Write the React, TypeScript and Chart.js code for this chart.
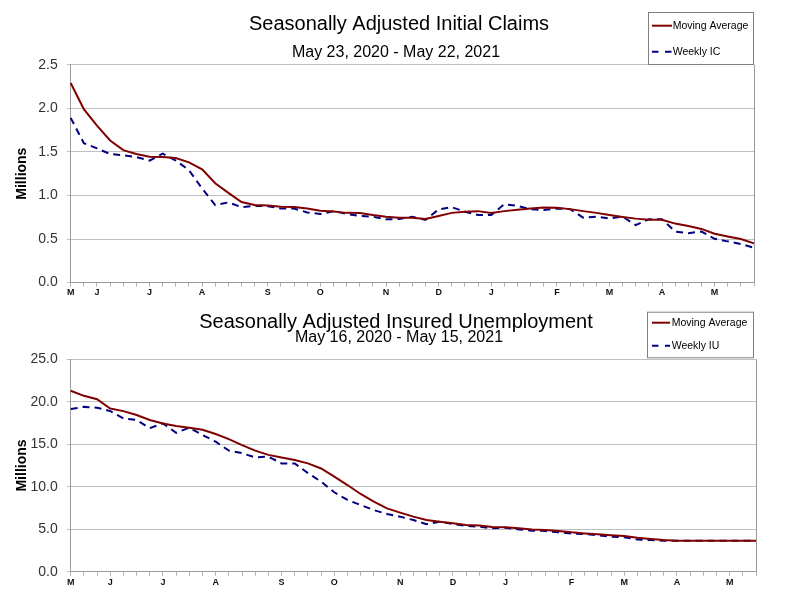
import React, { useEffect, useRef } from "react";
import { Chart, registerables } from "chart.js";

Chart.register(...registerables);

const FONT = '"Liberation Sans", Arial, Helvetica, sans-serif';

// ---- Initial claims (weeks ending May 23, 2020 - May 22, 2021), millions ----
const claimsTickLabels = [
  "M", "", "J", "", "", "", "J", "", "", "", "A", "", "", "", "", "S", "", "", "", "O",
  "", "", "", "", "N", "", "", "", "D", "", "", "", "J", "", "", "", "", "F", "", "",
  "", "M", "", "", "", "A", "", "", "", "M", "", "", "",
];
const claimsMovingAvg = [
  2.29, 1.99, 1.8, 1.63, 1.52, 1.475, 1.445, 1.44, 1.43, 1.38,
  1.3, 1.14, 1.03, 0.925, 0.89, 0.885, 0.87, 0.866, 0.85, 0.825,
  0.817, 0.8, 0.798, 0.775, 0.756, 0.745, 0.745, 0.73, 0.764, 0.8,
  0.813, 0.82, 0.8, 0.82, 0.836, 0.85, 0.862, 0.86, 0.843, 0.82,
  0.8, 0.775, 0.753, 0.734, 0.722, 0.722, 0.677, 0.65, 0.616, 0.56,
  0.53, 0.5, 0.45,
];
const claimsWeekly = [
  1.89, 1.6, 1.54, 1.475, 1.46, 1.44, 1.4, 1.48, 1.4, 1.29,
  1.08, 0.89, 0.92, 0.866, 0.88, 0.877, 0.85, 0.85, 0.805, 0.787,
  0.82, 0.787, 0.765, 0.756, 0.726, 0.73, 0.756, 0.72, 0.84, 0.865,
  0.813, 0.775, 0.775, 0.9, 0.88, 0.843, 0.832, 0.85, 0.843, 0.745,
  0.756, 0.737, 0.756, 0.66, 0.726, 0.726, 0.586, 0.567, 0.586, 0.503,
  0.473, 0.443, 0.4,
];

// ---- Insured unemployment (weeks ending May 16, 2020 - May 15, 2021), millions ----
const insuredTickLabels = [
  "M", "", "", "J", "", "", "", "J", "", "", "", "A", "", "", "", "", "S", "", "", "",
  "O", "", "", "", "", "N", "", "", "", "D", "", "", "", "J", "", "", "", "", "F", "",
  "", "", "M", "", "", "", "A", "", "", "", "M", "", "",
];
const insuredMovingAvg = [
  21.3, 20.7, 20.3, 19.2, 18.9, 18.45, 17.85, 17.45, 17.15, 16.95,
  16.7, 16.2, 15.6, 14.9, 14.25, 13.75, 13.45, 13.15, 12.75, 12.15,
  11.2, 10.2, 9.15, 8.25, 7.45, 6.95, 6.48, 6.08, 5.89, 5.7,
  5.5, 5.45, 5.26, 5.22, 5.1, 4.98, 4.9, 4.8, 4.63, 4.5,
  4.4, 4.3, 4.2, 4.0, 3.85, 3.73, 3.65, 3.65, 3.65, 3.65,
  3.65, 3.65, 3.65,
];
const insuredWeekly = [
  19.15, 19.4, 19.3, 18.9, 18.05, 17.85, 16.9, 17.45, 16.35, 16.95,
  16.1, 15.3, 14.25, 13.95, 13.45, 13.55, 12.75, 12.75, 11.6, 10.6,
  9.35, 8.45, 7.85, 7.25, 6.8, 6.48, 6.08, 5.6, 5.89, 5.6,
  5.38, 5.3, 5.1, 5.18, 4.98, 4.83, 4.79, 4.63, 4.5, 4.43,
  4.28, 4.12, 4.04, 3.8, 3.73, 3.65, 3.65, 3.65, 3.65, 3.65,
  3.65, 3.65, 3.65,
];

const MA_COLOR = "#800000";
const WK_COLOR = "#000080";
const GRID = "#c0c0c0";
const AXIS = "#9a9a9a";

const decorPlugin = {
  id: "decor",
  afterDraw(chart: any, _args: any, opts: any) {
    const { ctx, chartArea } = chart;
    ctx.save();
    // right border of plot area
    ctx.strokeStyle = AXIS;
    ctx.lineWidth = 1;
    ctx.beginPath();
    ctx.moveTo(Math.round(chartArea.right) + 0.5, chartArea.top);
    ctx.lineTo(Math.round(chartArea.right) + 0.5, chartArea.bottom);
    ctx.stroke();

    // titles
    ctx.fillStyle = "#000";
    ctx.textAlign = "center";
    ctx.textBaseline = "alphabetic";
    ctx.font = `20px ${FONT}`;
    ctx.fillText(opts.title, opts.titleX, opts.titleY);
    ctx.font = `16px ${FONT}`;
    ctx.fillText(opts.subtitle, opts.subX, opts.subY);

    // legend box
    const b = opts.box;
    ctx.fillStyle = "#fff";
    ctx.fillRect(b.x, b.y, b.w, b.h);
    ctx.strokeStyle = "#808080";
    ctx.strokeRect(b.x + 0.5, b.y + 0.5, b.w, b.h);
    ctx.font = `10.5px ${FONT}`;
    ctx.textAlign = "left";
    opts.items.forEach((it: any) => {
      ctx.strokeStyle = it.color;
      ctx.lineWidth = 2;
      ctx.setLineDash(it.dash || []);
      ctx.beginPath();
      ctx.moveTo(it.x1, it.ly);
      ctx.lineTo(it.x2, it.ly);
      ctx.stroke();
      ctx.setLineDash([]);
      ctx.fillStyle = "#000";
      ctx.fillText(it.text, it.tx, it.ty);
    });
    ctx.restore();
  },
};

function makeConfig(p: any): any {
  return {
    type: "line",
    data: {
      labels: p.labels,
      datasets: [
        {
          label: "Moving Average",
          data: p.ma,
          borderColor: MA_COLOR,
          borderWidth: 2,
          pointRadius: 0,
          tension: 0,
          fill: false,
        },
        {
          label: p.wkLabel,
          data: p.wk,
          borderColor: WK_COLOR,
          borderWidth: 2,
          borderDash: [7, 5],
          pointRadius: 0,
          tension: 0,
          fill: false,
        },
      ],
    },
    options: {
      responsive: false,
      animation: false,
      layout: { padding: { top: p.padTop, right: p.padRight, left: 0, bottom: 0 } },
      plugins: {
        legend: { display: false },
        tooltip: { enabled: false },
        decor: p.decor,
      },
      scales: {
        x: {
          type: "category",
          offset: false,
          grid: { drawOnChartArea: false, drawTicks: true, tickLength: 4, color: "#b0b0b0" },
          border: { display: true, color: AXIS },
          ticks: {
            autoSkip: false,
            maxRotation: 0,
            minRotation: 0,
            padding: 1,
            color: "#111",
            font: { family: FONT, size: 9, weight: "bold" },
            callback: (_v: any, i: number) => p.labels[i],
          },
          afterFit: (s: any) => {
            s.height = p.xHeight;
          },
        },
        y: {
          min: 0,
          max: p.yMax,
          grid: { color: GRID, tickLength: 4 },
          border: { display: true, color: AXIS },
          ticks: {
            stepSize: p.yStep,
            padding: 9,
            color: "#333",
            font: { family: FONT, size: 14 },
            callback: (v: any) => Number(v).toFixed(1),
          },
          title: {
            display: true,
            text: "Millions",
            color: "#000",
            font: { family: FONT, size: 14, weight: "bold" },
            padding: { top: 14, bottom: 0 },
          },
          afterFit: (s: any) => {
            s.width = 70.7;
          },
        },
      },
    },
    plugins: [decorPlugin],
  };
}

export default function App() {
  const topRef = useRef<HTMLCanvasElement>(null);
  const botRef = useRef<HTMLCanvasElement>(null);

  useEffect(() => {
    const top = new Chart(
      topRef.current as HTMLCanvasElement,
      makeConfig({
        labels: claimsTickLabels,
        ma: claimsMovingAvg,
        wk: claimsWeekly,
        wkLabel: "Weekly IC",
        yMax: 2.5,
        yStep: 0.5,
        padTop: 64.7,
        padRight: 41,
        xHeight: 15,
        decor: {
          title: "Seasonally Adjusted Initial Claims",
          titleX: 399,
          titleY: 30,
          subtitle: "May 23, 2020 - May 22, 2021",
          subX: 396,
          subY: 57,
          box: { x: 648, y: 12, w: 105, h: 52 },
          items: [
            { text: "Moving Average", color: MA_COLOR, x1: 652, x2: 672, ly: 25.7, tx: 672.7, ty: 29.3 },
            { text: "Weekly IC", color: WK_COLOR, dash: [6.5, 6.5], x1: 652, x2: 672, ly: 51.7, tx: 672.7, ty: 55 },
          ],
        },
      })
    );
    const bot = new Chart(
      botRef.current as HTMLCanvasElement,
      makeConfig({
        labels: insuredTickLabels,
        ma: insuredMovingAvg,
        wk: insuredWeekly,
        wkLabel: "Weekly IU",
        yMax: 25,
        yStep: 5,
        padTop: 59.3,
        padRight: 39,
        xHeight: 40.3,
        decor: {
          title: "Seasonally Adjusted Insured Unemployment",
          titleX: 396,
          titleY: 28,
          subtitle: "May 16, 2020 - May 15, 2021",
          subX: 399,
          subY: 41.7,
          box: { x: 647, y: 11.7, w: 106, h: 45.6 },
          items: [
            { text: "Moving Average", color: MA_COLOR, x1: 652, x2: 670, ly: 22.7, tx: 671.7, ty: 26 },
            { text: "Weekly IU", color: WK_COLOR, dash: [6.5, 6.5], x1: 652, x2: 670, ly: 45.7, tx: 671.7, ty: 48.7 },
          ],
        },
      })
    );
    return () => {
      top.destroy();
      bot.destroy();
    };
  }, []);

  return (
    <div style={{ position: "absolute", left: 0, top: 0, width: 795, height: 612, background: "#fff" }}>
      <canvas ref={topRef} width={795} height={300} style={{ position: "absolute", left: 0, top: 0, width: 795, height: 300 }} />
      <canvas ref={botRef} width={795} height={312} style={{ position: "absolute", left: 0, top: 300, width: 795, height: 312 }} />
    </div>
  );
}
